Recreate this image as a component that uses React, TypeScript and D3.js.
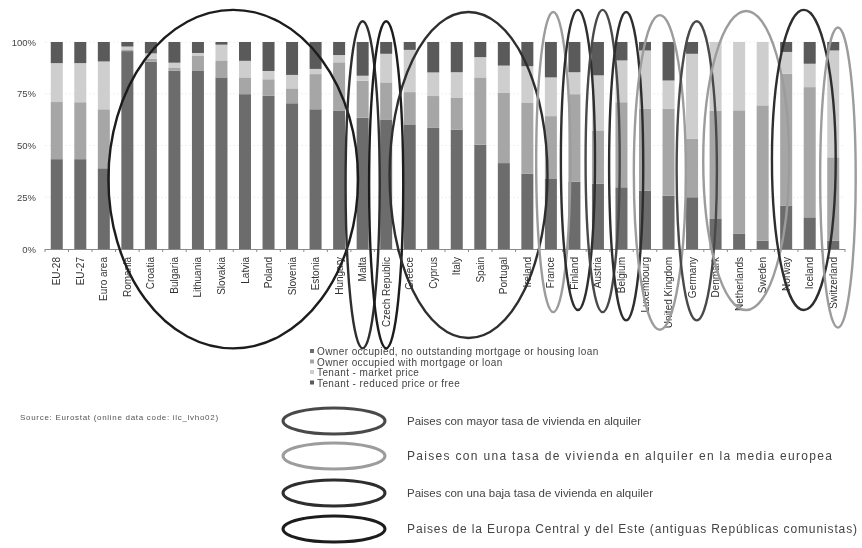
import React from 'react';
import * as d3 from 'd3';

// Housing tenure by country, % of population (Eurostat ilc_lvho02)
const categories = [
  'EU-28', 'EU-27', 'Euro area', 'Romania', 'Croatia', 'Bulgaria', 'Lithuania', 'Slovakia',
  'Latvia', 'Poland', 'Slovenia', 'Estonia', 'Hungary', 'Malta', 'Czech Republic', 'Greece',
  'Cyprus', 'Italy', 'Spain', 'Portugal', 'Ireland', 'France', 'Finland', 'Austria', 'Belgium',
  'Luxembourg', 'United Kingdom', 'Germany', 'Denmark', 'Netherlands', 'Sweden', 'Norway',
  'Iceland', 'Switzerland',
];
const ownerOutright = [
  43.4, 43.4, 39.0, 95.6, 90.5, 86.2, 86.0, 82.9, 74.8, 74.0, 70.4, 67.5, 66.7, 63.4, 62.6, 60.2,
  58.5, 57.7, 50.4, 41.5, 36.3, 34.1, 32.5, 31.5, 29.8, 28.2, 25.8, 25.0, 14.5, 7.3, 4.0, 21.0,
  15.3, 4.0,
];
const ownerMortgage = [
  27.6, 27.5, 28.5, 0.8, 1.5, 1.5, 7.5, 8.2, 8.1, 8.0, 7.2, 17.0, 23.5, 17.9, 17.9, 15.6,
  15.4, 15.5, 32.5, 34.1, 34.5, 30.1, 42.3, 25.8, 41.1, 39.5, 41.9, 28.2, 52.4, 59.7, 65.4, 63.7,
  62.9, 40.3,
];
const tenantMarket = [
  18.8, 18.9, 23.1, 1.4, 2.5, 2.3, 1.2, 7.6, 8.0, 4.0, 6.5, 2.5, 3.5, 2.4, 13.8, 20.4,
  11.4, 12.2, 9.8, 13.0, 17.5, 18.7, 10.6, 26.6, 20.2, 28.2, 13.7, 41.1, 33.1, 33.0, 30.6, 10.5,
  11.3, 51.6,
];
const tenantReduced = [
  10.2, 10.2, 9.4, 2.2, 5.5, 10.0, 5.3, 1.3, 9.1, 14.0, 15.9, 13.0, 6.3, 16.3, 5.7, 3.8,
  14.7, 14.6, 7.3, 11.4, 11.7, 17.1, 14.6, 16.1, 8.9, 4.1, 18.6, 5.7, 0, 0, 0, 4.8,
  10.5, 4.1,
];
const seriesNames = [
  'Owner occupied, no outstanding mortgage or housing loan',
  'Owner occupied with mortgage or loan',
  'Tenant - market price',
  'Tenant - reduced price or free',
];
const yTicks = [0, 25, 50, 75, 100];
const sourceNote = 'Source: Eurostat (online data code: ilc_lvho02)';
const groupLabels = [
  'Paises con mayor tasa de vivienda en alquiler',
  'Paises con una tasa de vivienda en alquiler en la media europea',
  'Paises con una baja tasa de vivienda en alquiler',
  'Paises de la Europa Central y del Este (antiguas Repúblicas comunistas)',
];
// hand drawn rings: category span, top/bottom in % units, group (index in groupLabels)
const rings = [
  { from: 'Romania', to: 'Hungary', top: 115.5, bottom: -48, group: 3, pad: 0.55, shift: 0 },
  { from: 'Malta', to: 'Malta', top: 110, bottom: -48, group: 2, pad: 0.47, shift: 0 },
  { from: 'Czech Republic', to: 'Czech Republic', top: 110, bottom: -48, group: 3, pad: 0.47, shift: 0 },
  { from: 'Greece', to: 'Ireland', top: 114.5, bottom: -43, group: 2, pad: 0.6, shift: 0 },
  { from: 'France', to: 'France', top: 114.5, bottom: -30.5, group: 1, pad: 0.47, shift: 0.1 },
  { from: 'Finland', to: 'Finland', top: 115.5, bottom: -29.5, group: 2, pad: 0.47, shift: 0.15 },
  { from: 'Austria', to: 'Austria', top: 115.5, bottom: -30.5, group: 0, pad: 0.47, shift: 0.2 },
  { from: 'Belgium', to: 'Belgium', top: 114.5, bottom: -34.5, group: 2, pad: 0.47, shift: 0.2 },
  { from: 'Luxembourg', to: 'United Kingdom', top: 113, bottom: -39, group: 1, pad: 0.35, shift: 0.13 },
  { from: 'Germany', to: 'Germany', top: 110, bottom: -34.5, group: 0, pad: 0.6, shift: 0.2 },
  { from: 'Denmark', to: 'Sweden', top: 115, bottom: -29.5, group: 1, pad: 0.57, shift: 0.3 },
  { from: 'Norway', to: 'Iceland', top: 115.5, bottom: -29.5, group: 2, pad: 0.6, shift: 0.25 },
  { from: 'Switzerland', to: 'Switzerland', top: 107, bottom: -38, group: 1, pad: 0.5, shift: 0.2 },
];

const seriesColors = ['#6c6c6c', '#a6a6a6', '#cecece', '#5a5a5a'];
const groupColors = ['#4a4a4a', '#9c9c9c', '#2e2e2e', '#1c1c1c'];
const groupTextWidths = [234, 425, 246, 450];
const groupFontSizes = [11.5, 12, 11.5, 12];
const ringLegendY = [421, 456, 493, 529];
const font = '"Liberation Sans", Arial, sans-serif';

const App = () => {
  const width = 862;
  const height = 548;
  const plot = { left: 45, right: 845, top: 42, bottom: 249 };

  const x = d3.scaleBand<string>()
    .domain(categories)
    .range([plot.left, plot.right])
    .paddingInner(0.49)
    .paddingOuter(0.245);
  const step = x.step();
  const y = d3.scaleLinear().domain([0, 100]).range([plot.bottom, plot.top]);

  const rows = categories.map((c, i) => ({
    country: c,
    s0: ownerOutright[i],
    s1: ownerMortgage[i],
    s2: tenantMarket[i],
    s3: tenantReduced[i],
  }));
  const stacked = d3.stack<any>().keys(['s0', 's1', 's2', 's3'])(rows);

  const ringShapes = rings.map(r => {
    const x0 = x(r.from)!;
    const x1 = x(r.to)! + x.bandwidth();
    return {
      cx: (x0 + x1) / 2 + r.shift * step,
      rx: (x1 - x0) / 2 + r.pad * step,
      cy: (y(r.top) + y(r.bottom)) / 2,
      ry: (y(r.bottom) - y(r.top)) / 2,
      color: groupColors[r.group],
    };
  });

  const boundaries = d3.range(categories.length + 1).map(i => plot.left + i * step);

  return (
    <svg width={width} height={height} style={{ position: 'absolute', left: 0, top: 0, background: '#fff' }}
      fontFamily={font}>
      <defs>
        <filter id="soft" x="-5%" y="-5%" width="110%" height="110%">
          <feGaussianBlur stdDeviation="0.35" />
        </filter>
      </defs>
      <g filter="url(#soft)">
        {/* faint grid */}
        {yTicks.filter(t => t > 0).map(t => (
          <line key={t} x1={plot.left} x2={plot.right} y1={y(t)} y2={y(t)}
            stroke="#ececec" strokeWidth={0.8} strokeDasharray="2,2" />
        ))}
        {/* bars */}
        {stacked.map((layer, k) => (
          <g key={k} fill={seriesColors[k]}>
            {layer.map((d: any, i: number) => (
              <rect key={i} x={x(categories[i])} width={x.bandwidth()}
                y={y(d[1])} height={Math.max(0, y(d[0]) - y(d[1]))} />
            ))}
          </g>
        ))}
        {/* axis */}
        <line x1={plot.left} x2={plot.right} y1={plot.bottom + 0.5} y2={plot.bottom + 0.5} stroke="#8a8a8a" />
        {boundaries.map((b, i) => (
          <line key={i} x1={b} x2={b} y1={plot.bottom} y2={plot.bottom + 3} stroke="#8a8a8a" />
        ))}
        {yTicks.map(t => (
          <text key={t} x={36} y={y(t) + 3.5} fontSize={9.5} fill="#444" textAnchor="end">{t}%</text>
        ))}
        {categories.map(c => (
          <text key={c} transform={`translate(${x(c)! + x.bandwidth() / 2 + 3.5},257) rotate(-90)`}
            fontSize={10} fill="#333" textAnchor="end">{c}</text>
        ))}
        {/* series legend */}
        {seriesNames.map((s, i) => (
          <g key={s} transform={`translate(310,${355 + i * 10.5})`}>
            <rect x={0} y={-6} width={4} height={4} fill={seriesColors[i]} />
            <text x={7} y={0} fontSize={10} letterSpacing={0.4} fill="#444">{s}</text>
          </g>
        ))}
        <text x={20} y={420} fontSize={8} letterSpacing={0.7} fill="#555">{sourceNote}</text>
        {/* rings */}
        {ringShapes.map((r, i) => (
          <ellipse key={i} cx={r.cx} cy={r.cy} rx={r.rx} ry={r.ry}
            fill="none" stroke={r.color} strokeWidth={2.4} />
        ))}
        {/* ring legend */}
        {groupLabels.map((g, i) => (
          <g key={g}>
            <ellipse cx={334} cy={ringLegendY[i]} rx={51} ry={13} fill="none" stroke={groupColors[i]} strokeWidth={3} />
            <text x={407} y={ringLegendY[i] + 4} fontSize={groupFontSizes[i]} fill="#444"
              textLength={groupTextWidths[i]} lengthAdjust="spacing">{g}</text>
          </g>
        ))}
      </g>
    </svg>
  );
};

export default App;
